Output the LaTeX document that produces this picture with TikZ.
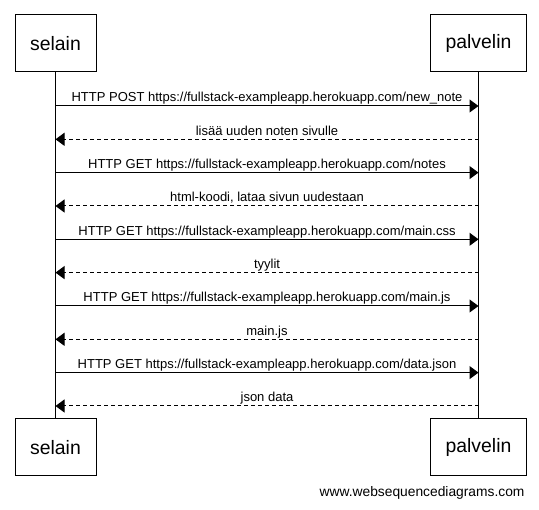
\documentclass[tikz,border=0pt]{standalone}
\usepackage{fontspec}
\setmainfont{Liberation Sans}
\usepackage{tikz}
\usetikzlibrary{arrows.meta}
\usetikzlibrary{positioning}

\begin{document}
\begin{tikzpicture}[x=1pt, y=-1pt, line width=1pt,
    actor/.style={rectangle, draw=black, fill=white, font=\fontsize{19.4}{22}\selectfont},
    req/.style={-{Triangle[length=9pt,width=13pt]}},
    resp/.style={req, dash pattern=on 4pt off 3pt},
    msg/.style={font=\fontsize{13}{15}\selectfont, anchor=base, yshift=4pt, inner sep=0pt}]

    \useasboundingbox (0,0) rectangle (539,510);

    % osallistujat
    \node[actor, minimum width=81pt, minimum height=57pt] (s1) at (55.5,43.5) {selain};
    \node[actor, minimum width=96pt, minimum height=57pt] (p1) at (478.5,43.5) {palvelin};
    \node[actor, minimum width=81pt, minimum height=57pt] (s2) at (55.5,447.5) {selain};
    \node[actor, minimum width=96pt, minimum height=57pt] (p2) at (478.5,447.5) {palvelin};

    \draw (s1) -- (s2);
    \draw (p1) -- (p2);

    % viestit
    \draw[req] (s1 |- 0,106) -- node[msg] {HTTP POST https://fullstack-exampleapp.herokuapp.com/new\_note} (p1 |- 0,106);
    \draw[resp] (p1 |- 0,139.3) -- node[msg] {lisää uuden noten sivulle} (s1 |- 0,139.3);
    \draw[req] (s1 |- 0,172.6) -- node[msg] {HTTP GET https://fullstack-exampleapp.herokuapp.com/notes} (p1 |- 0,172.6);
    \draw[resp] (p1 |- 0,206) -- node[msg] {html-koodi, lataa sivun uudestaan} (s1 |- 0,206);
    \draw[req] (s1 |- 0,239.3) -- node[msg] {HTTP GET https://fullstack-exampleapp.herokuapp.com/main.css} (p1 |- 0,239.3);
    \draw[resp] (p1 |- 0,272.6) -- node[msg] {tyylit} (s1 |- 0,272.6);
    \draw[req] (s1 |- 0,306) -- node[msg] {HTTP GET https://fullstack-exampleapp.herokuapp.com/main.js} (p1 |- 0,306);
    \draw[resp] (p1 |- 0,339.3) -- node[msg] {main.js} (s1 |- 0,339.3);
    \draw[req] (s1 |- 0,372.6) -- node[msg] {HTTP GET https://fullstack-exampleapp.herokuapp.com/data.json} (p1 |- 0,372.6);
    \draw[resp] (p1 |- 0,406) -- node[msg] {json data} (s1 |- 0,406);

    \node[font=\fontsize{13.8}{16}\selectfont, anchor=east, inner sep=0pt] (www) at (525,493) {www.websequencediagrams.com};
\end{tikzpicture}
\end{document}
